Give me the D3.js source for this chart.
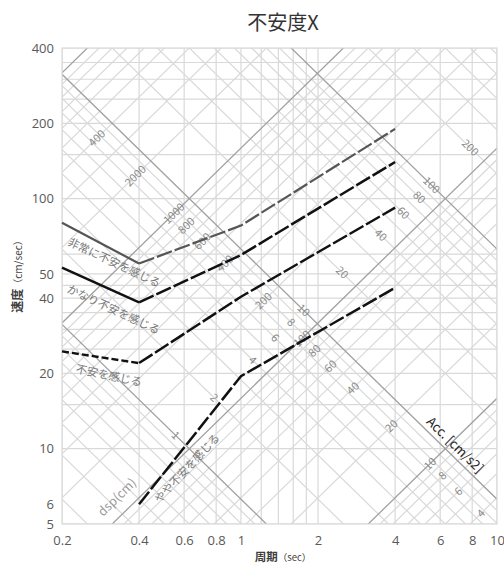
<!DOCTYPE html>
<html><head><meta charset="utf-8">
<script src="https://cdn.jsdelivr.net/npm/d3@7"></script>
<style>
body{margin:0;background:#fff}
text{font-family:"Noto Sans CJK JP","Open Sans",sans-serif}
</style>
</head><body>
<svg id="c" width="504" height="567"></svg>
<script>
// ---- data ----
const title = "不安度X";
const xLabel = "周期";
const xUnit = "（sec）";
const yLabel = "速度";
const yUnit = "（cm/sec）";
const xTicks = [0.2, 0.4, 0.6, 0.8, 1, 2, 4, 6, 8, 10];
const yTicks = [5, 6, 10, 20, 40, 50, 100, 200, 400];
const xGrid = [0.2, 0.4, 0.6, 0.8, 1, 1.2, 1.4, 1.6, 1.8, 2, 4, 6, 8, 10];
const yGrid = [5, 10, 15, 20, 25, 30, 35, 40, 45, 50, 60, 100, 150, 200, 250, 300, 350, 400];

// displacement (cm) and acceleration (cm/s2) reference lines
const dspGrid = [0.2,0.3,0.4,0.5,0.6,0.7,0.8,0.9,1,2,3,4,5,6,7,8,9,10,20,30,40,50,60,70,80,90,100,200,300,400,500,600,700,800,900];
const dspMajor = [1, 10, 100];
const accGrid = [3,4,5,6,7,8,9,10,20,30,40,50,60,70,80,90,100,200,300,400,500,600,700,800,900,1000,2000,3000,4000,5000,6000,7000,8000,9000,10000];
const accMajor = [10, 100, 1000, 10000];
const dspLabelValues = [1, 2, 4, 6, 8, 10, 20, 40, 60, 80, 100, 200];
const accLabelValues = [4000, 2000, 1000, 800, 600, 400, 200, 100, 80, 60, 40, 20, 10, 8, 6, 4];
const accLabelTexts  = ["400", "2000", "1000", "800", "600", "400", "200", "100", "80", "60", "40", "20", "10", "8", "6", "4"];
const dspLabelAcc = 128;   // labels of dsp lines sit on this acceleration line
const accLabelDsp = 7.6;   // labels of acc lines sit on this displacement line

// comfort curves: period (sec) vs velocity (cm/sec)
const periods = [0.2, 0.4, 1, 4];
const veryUneasy     = [80, 55, 78, 190];
const ratherUneasy   = [53, 38.5, 59.5, 140];
const uneasy         = [24.5, 22, 40.5, 92];
const slightlyUneasy = [null, 6, 19.5, 44];

const curveNames = ["非常に不安を感じる", "かなり不安を感じる", "不安を感じる", "やや不安を感じる"];
const curveLabelT = [0.32, 0.318, 0.305, 0.616];
const curveLabelV = [55.5, 36, 19.6, 8.35];
const curveLabelAngle = [25, 25, 12, -47];

// ---- chart ----
const L = 62, R = 497, T = 48, B = 524;
const svg = d3.select("#c");
const x = d3.scaleLog().domain([0.2, 10]).range([L, R]);
const y = d3.scaleLog().domain([5, 400]).range([B, T]);
const TWO_PI = 2 * Math.PI;
const ang = Math.atan((y(5) - y(50)) / (x(2) - x(0.2))) * 180 / Math.PI;

svg.append("defs").append("clipPath").attr("id", "clip")
  .append("rect").attr("x", L).attr("y", T).attr("width", R - L).attr("height", B - T);

const gGrid = svg.append("g").attr("clip-path", "url(#clip)");
const light = "#d9d9d9", dark = "#a0a0a0";

// vertical & horizontal grid
gGrid.selectAll(".vx").data(xGrid).join("line")
  .attr("x1", d => x(d)).attr("x2", d => x(d)).attr("y1", T).attr("y2", B)
  .attr("stroke", light).attr("stroke-width", 1.2);
gGrid.selectAll(".hy").data(yGrid).join("line")
  .attr("x1", L).attr("x2", R).attr("y1", d => y(d)).attr("y2", d => y(d))
  .attr("stroke", light).attr("stroke-width", 1.2);

// displacement lines: V = 2πD/T ; acceleration lines: V = A·T/2π
const dspV = (D, t) => TWO_PI * D / t;
const accV = (A, t) => A * t / TWO_PI;
const tMin = 0.2, tMax = 10;
function drawDiag(vals, fn, color, w) {
  gGrid.append("g").selectAll("line").data(vals).join("line")
    .attr("x1", x(tMin)).attr("y1", d => y(fn(d, tMin)))
    .attr("x2", x(tMax)).attr("y2", d => y(fn(d, tMax)))
    .attr("stroke", color).attr("stroke-width", w);
}
drawDiag(dspGrid.filter(d => !dspMajor.includes(d)), dspV, light, 1.2);
drawDiag(accGrid.filter(d => !accMajor.includes(d)), accV, light, 1.2);
drawDiag(dspMajor, dspV, dark, 1.3);
drawDiag(accMajor, accV, dark, 1.3);

// border
svg.append("rect").attr("x", L).attr("y", T).attr("width", R - L).attr("height", B - T)
  .attr("fill", "none").attr("stroke", light).attr("stroke-width", 1.2);

// diagonal labels
const gLab = svg.append("g");
dspLabelValues.forEach(D => {
  const v = Math.sqrt(dspLabelAcc * D), t = TWO_PI * Math.sqrt(D / dspLabelAcc);
  gLab.append("text").attr("transform", `translate(${x(t)},${y(v)}) rotate(${ang})`)
    .attr("text-anchor", "middle").attr("dy", "0.35em")
    .attr("font-size", 11).attr("fill", "#8a8a8a").text(D);
});
accLabelValues.forEach((A, i) => {
  const v = Math.sqrt(accLabelDsp * A), t = TWO_PI * Math.sqrt(accLabelDsp / A);
  gLab.append("text").attr("transform", `translate(${x(t)},${y(v)}) rotate(${-ang})`)
    .attr("text-anchor", "middle").attr("dy", "0.35em")
    .attr("font-size", 11).attr("fill", "#8a8a8a").text(accLabelTexts[i]);
});
gLab.append("text").attr("transform", `translate(${x(0.328)},${y(6.4)}) rotate(${-ang})`)
  .attr("text-anchor", "middle").attr("dy", "0.35em")
  .attr("font-size", 12.5).attr("fill", "#9a9a9a").text("dsp(cm)");
gLab.append("text").attr("transform", `translate(${x(6.86)},${y(10.36)}) rotate(${ang})`)
  .attr("text-anchor", "middle").attr("dy", "0.35em")
  .attr("font-size", 13).attr("fill", "#222").text("Acc. [cm/s2]");

// curves
const curves = [
  {vals: veryUneasy, color: "#555", w: 2.2},
  {vals: ratherUneasy, color: "#111", w: 2.5},
  {vals: uneasy, color: "#111", w: 2.5},
  {vals: slightlyUneasy, color: "#111", w: 2.5}
];
const lineGen = d3.line().x(d => x(d[0])).y(d => y(d[1]));
const gC = svg.append("g");
curves.forEach((c, ci) => {
  const pts = periods.map((p, i) => [p, c.vals[i]]).filter(d => d[1] != null);
  const first = pts.slice(0, 2), rest = pts.slice(1);
  if (ci < 3) {
    gC.append("path").attr("d", lineGen(first)).attr("fill", "none")
      .attr("stroke", c.color).attr("stroke-width", c.w)
      .attr("stroke-dasharray", ci === 2 ? "7,3" : null);
    gC.append("path").attr("d", lineGen(rest)).attr("fill", "none")
      .attr("stroke", c.color).attr("stroke-width", c.w)
      .attr("stroke-dasharray", "16,3");
  } else {
    gC.append("path").attr("d", lineGen(pts)).attr("fill", "none")
      .attr("stroke", c.color).attr("stroke-width", c.w)
      .attr("stroke-dasharray", "16,3");
  }
});

// curve labels
curveNames.forEach((n, i) => {
  gC.append("text").attr("transform", `translate(${x(curveLabelT[i])},${y(curveLabelV[i])}) rotate(${curveLabelAngle[i]})`)
    .attr("text-anchor", "middle").attr("dy", "0.35em")
    .attr("font-size", 11.2).attr("fill", "#777").text(n);
});

// axes
const ax = svg.append("g").attr("transform", `translate(0,${B})`)
  .call(d3.axisBottom(x).tickValues(xTicks).tickFormat(d3.format("")).tickSize(0).tickPadding(12));
ax.select(".domain").remove();
ax.selectAll("text").attr("font-size", 13).attr("fill", "#595959")
  .style("font-family", "'Open Sans',sans-serif");
const ay = svg.append("g").attr("transform", `translate(${L},0)`)
  .call(d3.axisLeft(y).tickValues(yTicks).tickFormat(d3.format("")).tickSize(0).tickPadding(8));
ay.select(".domain").remove();
ay.selectAll("text").attr("font-size", 13).attr("fill", "#595959")
  .style("font-family", "'Open Sans',sans-serif");

// titles
svg.append("text").attr("x", 283).attr("y", 30).attr("text-anchor", "middle")
  .attr("font-size", 20).attr("fill", "#333").text(title);
const xt = svg.append("text").attr("x", 283).attr("y", 561).attr("text-anchor", "middle")
  .attr("fill", "#404040");
xt.append("tspan").attr("font-size", 11.5).attr("font-weight", "bold").text(xLabel);
xt.append("tspan").attr("font-size", 9.5).text(xUnit);
const yt = svg.append("text").attr("transform", `translate(22,274) rotate(-90)`)
  .attr("text-anchor", "middle").attr("fill", "#404040");
yt.append("tspan").attr("font-size", 12).attr("font-weight", "bold").text(yLabel);
yt.append("tspan").attr("font-size", 10).text(yUnit);
</script>
</body></html>
